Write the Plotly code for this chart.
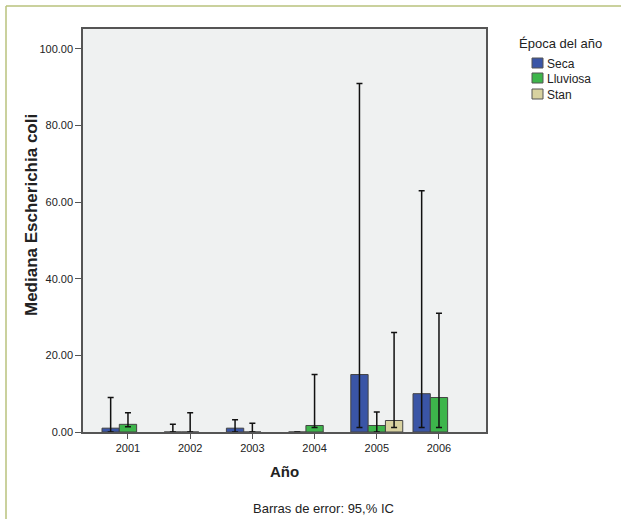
import plotly.graph_objects as go

years = ["2001", "2002", "2003", "2004", "2005", "2006"]
seca = [1.0, 0.0, 1.0, 0.0, 15.0, 10.0]
seca_hi = [9.0, 2.0, 3.2, 0.0, 91.0, 63.0]
seca_lo = [0.0, 0.0, 0.0, 0.0, 1.2, 1.2]
lluviosa = [2.0, 0.0, 0.0, 1.7, 1.7, 9.0]
lluviosa_hi = [5.0, 5.0, 2.3, 15.0, 5.2, 31.0]
lluviosa_lo = [1.4, 0.0, 0.0, 1.2, 0.0, 1.2]
stan = [None, None, None, None, 3.0, None]
stan_hi = [None, None, None, None, 26.0, None]
stan_lo = [None, None, None, None, 1.2, None]
y_ticks = [0, 20, 40, 60, 80, 100]

colors = {"Seca": "#3a55a6", "Lluviosa": "#3db54b", "Stan": "#d8d2a0"}

def errs(vals, hi, lo):
    plus, minus = [], []
    for v, h, l in zip(vals, hi, lo):
        if v is None:
            plus.append(None); minus.append(None)
        else:
            plus.append(max(h - v, 0)); minus.append(max(v - l, 0))
    return plus, minus

fig = go.Figure()
for name, vals, hi, lo in [("Seca", seca, seca_hi, seca_lo),
                           ("Lluviosa", lluviosa, lluviosa_hi, lluviosa_lo),
                           ("Stan", stan, stan_hi, stan_lo)]:
    p, m = errs(vals, hi, lo)
    fig.add_trace(go.Bar(
        x=years, y=vals, name=name,
        marker=dict(color=colors[name], line=dict(color="#444444", width=1)),
        error_y=dict(type="data", symmetric=False, array=p, arrayminus=m,
                     color="#111111", thickness=1.5, width=3),
        showlegend=False,
    ))

# plot area in pixels: x 83..486, y 29..432
L, R, T, B = 83, 486, 29, 432
W, H = 621, 519
def px(x):
    return (x - L) / (R - L)
def py(y):
    return (B - y) / (B - T)

shapes = [
    dict(type="line", xref="paper", yref="paper", x0=px(6), x1=px(621), y0=py(6), y1=py(6),
         line=dict(color="#b9c27c", width=1.5), layer="above"),
    dict(type="line", xref="paper", yref="paper", x0=px(6), x1=px(6), y0=py(6), y1=py(519),
         line=dict(color="#b9c27c", width=1.5), layer="above"),
]
annotations = [
    dict(text="<b>Mediana Escherichia coli</b>", xref="paper", yref="paper", x=px(31), y=py(215),
         textangle=-90, showarrow=False, font=dict(size=17, color="#222222"),
         xanchor="center", yanchor="middle"),
    dict(text="Época del año", xref="paper", yref="paper", x=px(560), y=py(43),
         showarrow=False, font=dict(size=13, color="#222222"), xanchor="center", yanchor="middle"),
    dict(text="Barras de error: 95,% IC", xref="paper", yref="paper", x=px(323), y=py(509),
         showarrow=False, font=dict(size=13, color="#222222"), xanchor="center", yanchor="middle"),
]
leg_y = [63, 78, 94]
for (name, c), yy in zip(colors.items(), leg_y):
    shapes.append(dict(type="rect", xref="paper", yref="paper", x0=px(532), x1=px(543),
                       y0=py(yy + 5), y1=py(yy - 5), fillcolor=c, line=dict(color="#555555", width=1)))
    annotations.append(dict(text=name, xref="paper", yref="paper", x=px(545), y=py(yy + 1),
                            showarrow=False, xanchor="left", yanchor="middle",
                            font=dict(size=12, color="#222222")))

fig.update_layout(
    width=W, height=H,
    margin=dict(l=L, r=W - R, t=T, b=H - B, pad=0),
    paper_bgcolor="white", plot_bgcolor="#eff1f1",
    barmode="group", bargap=0.165, bargroupgap=0,
    font=dict(family="Arial, Liberation Sans, sans-serif", size=11, color="#222222"),
    shapes=shapes, annotations=annotations,
    xaxis=dict(type="category", range=[-0.723, 5.756], showline=True, linecolor="#555555",
               linewidth=1.5, mirror=True, ticks="outside", ticklen=5, tickcolor="#555555",
               showgrid=False,
               title=dict(text="<b>Año</b>", font=dict(size=15, color="#222222"), standoff=14)),
    yaxis=dict(range=[0, 105.2], tickvals=y_ticks, tickformat=".2f", showline=True,
               linecolor="#555555", linewidth=1.5, mirror=True, ticks="outside", ticklen=6,
               tickcolor="#555555", showgrid=False, zeroline=False),
)

fig.write_html("out.html", config={"displayModeBar": False},
               post_script="document.body.style.margin='0';document.body.style.overflow='hidden';")
